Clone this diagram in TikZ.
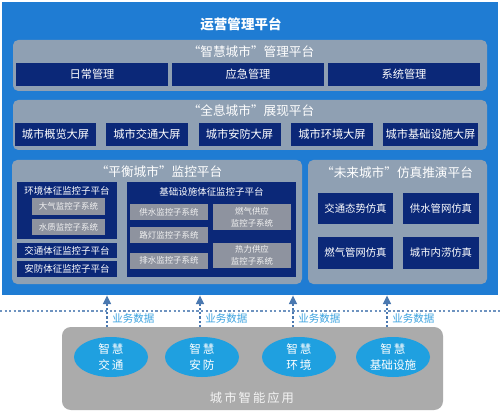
\documentclass[tikz,border=0pt]{standalone}
\usepackage{fontspec}
\setmainfont{Noto Sans CJK SC}
\usetikzlibrary{arrows.meta,shapes.geometric}
\definecolor{platblue}{HTML}{1F7CD3}
\definecolor{panelgray}{HTML}{8FA0B3}
\definecolor{navy}{HTML}{0B2878}
\definecolor{subgray}{HTML}{8E939F}
\definecolor{appgray}{HTML}{ABABAB}
\definecolor{appblue}{HTML}{1FA0E0}
\definecolor{flowblue}{HTML}{4A78B0}
\definecolor{lblblue}{HTML}{3BA3E0}

\begin{document}
\begin{tikzpicture}[
    x=0.02cm, y=-0.02cm,
    every node/.style={font=\fontsize{6.4}{7.5}\selectfont, align=center, text=white, inner sep=0pt},
    sz/.style 2 args={minimum width=#1*0.02cm, minimum height=#2*0.02cm},
    panel/.style={fill=panelgray, rounded corners=3pt},
    nbox/.style={fill=navy},
    gbox/.style={fill=subgray, text=white!90!gray, font=\fontsize{4.8}{6.8}\selectfont},
    ttl/.style={font=\fontsize{7.2}{8.5}\selectfont},
    sub/.style={font=\fontsize{5.4}{6.5}\selectfont},
    sim/.style={font=\fontsize{5.9}{7}\selectfont},
    app/.style={ellipse, fill=appblue, sz={74}{40}, font=\fontsize{6.6}{9}\selectfont},
    flow/.style={-{Triangle[length=5pt,width=4.5pt]}, flowblue, line width=1pt, dash pattern=on 1.2pt off 1.2pt},
    lbl/.style={text=lblblue, font=\fontsize{6}{7}\selectfont, anchor=west},
  ]
  \fill[white] (0,0) rectangle (500,415);
  \useasboundingbox (0,0) rectangle (500,415);

  \node[fill=platblue, sz={496}{293}] (plat) at (250,148.5) {};
  \node[font=\fontsize{7.7}{9}\selectfont\bfseries] (platttl) at (241,24) {运营管理平台};

  \node[panel, sz={474}{51}] (mgmt) at (250,65.5) {};
  \node[ttl] (mgmtttl) at (251,52) {“智慧城市”管理平台};
  \node[nbox, sz={152}{23}] (daily) at (92,74.5) {日常管理};
  \node[nbox, sz={152}{23}] (emerg) at (248,74.5) {应急管理};
  \node[nbox, sz={152}{23}] (sysm) at (404,74.5) {系统管理};

  \node[panel, sz={474}{50}] (show) at (250,125) {};
  \node[ttl] (showttl) at (251,111) {“全息城市”展现平台};
  \node[nbox, sz={81}{23}] (scr1) at (55.5,134.5) {城市概览大屏};
  \node[nbox, sz={82}{23}] (scr2) at (147,134.5) {城市交通大屏};
  \node[nbox, sz={82}{23}] (scr3) at (239.5,134.5) {城市安防大屏};
  \node[nbox, sz={82}{23}] (scr4) at (332,134.5) {城市环境大屏};
  \node[nbox, sz={95}{23}] (scr5) at (430.5,134.5) {城市基础设施大屏};

  \node[panel, sz={290}{124}] (bal) at (157,222) {};
  \node[ttl] (balttl) at (159,172) {“平衡城市”监控平台};
  \node[nbox, sz={100}{57}] (env) at (67,210.5) {};
  \node[sub, anchor=north] (envttl) at (67,186) {环境体征监控子平台};
  \node[gbox, sz={73}{17}] (air) at (68.5,206.5) {大气监控子系统};
  \node[gbox, sz={73}{16}] (water) at (68.5,227) {水质监控子系统};
  \node[nbox, sub, sz={100}{15}] (traf) at (67,250.5) {交通体征监控子平台};
  \node[nbox, sub, sz={100}{16}] (secu) at (67,269) {安防体征监控子平台};

  \node[nbox, sz={169}{95}] (infra) at (211.5,229.5) {};
  \node[sub, anchor=north] (infrattl) at (211.5,187) {基础设施体征监控子平台};
  \node[gbox, sz={78}{16}] (supw) at (169,212) {供水监控子系统};
  \node[gbox, sz={78}{16}] (lamp) at (169,235) {路灯监控子系统};
  \node[gbox, sz={78}{16}] (drain) at (169,260.5) {排水监控子系统};
  \node[gbox, sz={78}{26}] (gas) at (252,217) {燃气供应\\监控子系统};
  \node[gbox, sz={78}{25}] (heat) at (252,255.5) {热力供应\\监控子系统};

  \node[panel, sz={179}{124}] (sim) at (397.5,222) {};
  \node[ttl] (simttl) at (397,173) {“未来城市”仿真推演平台};
  \node[nbox, sim, sz={75}{31}] (sim1) at (355.5,208.5) {交通态势仿真};
  \node[nbox, sim, sz={76}{31}] (sim2) at (441,208.5) {供水管网仿真};
  \node[nbox, sim, sz={75}{32}] (sim3) at (355.5,253) {燃气管网仿真};
  \node[nbox, sim, sz={76}{32}] (sim4) at (441,253) {城市内涝仿真};

  \coordinate (sepl) at (0,311);
  \coordinate (sepr) at (500,311);
  \draw[flowblue!80, line width=1.1pt, dash pattern=on 1.3pt off 1.3pt] (sepl) -- (sepr);

  \node[fill=appgray, rounded corners=5pt, sz={381}{83}] (city) at (252.5,368.5) {};
  \node[font=\fontsize{7}{8}\selectfont, text=white!92!gray] (cityttl) at (252,398) {城\,市\,智\,能\,应\,用};
  \node[app] (traffic) at (111,357) {智\,慧\\交\,通};
  \node[app] (safety) at (202,357) {智\,慧\\安\,防};
  \node[app] (envir) at (299,357) {智\,慧\\环\,境};
  \node[app] (infras) at (393,357) {智\,慧\\基础设施};

  \coordinate (d1) at (107,327);
  \coordinate (d2) at (200,327);
  \coordinate (d3) at (293,327);
  \coordinate (d4) at (387,327);
  \draw[flow] (d1) -- (d1 |- plat.south);
  \draw[flow] (d2) -- (d2 |- plat.south);
  \draw[flow] (d3) -- (d3 |- plat.south);
  \draw[flow] (d4) -- (d4 |- plat.south);
  \node[lbl] (data1) at (112,319) {业务数据};
  \node[lbl] (data2) at (205,319) {业务数据};
  \node[lbl] (data3) at (298,319) {业务数据};
  \node[lbl] (data4) at (392,319) {业务数据};
\end{tikzpicture}
\end{document}
